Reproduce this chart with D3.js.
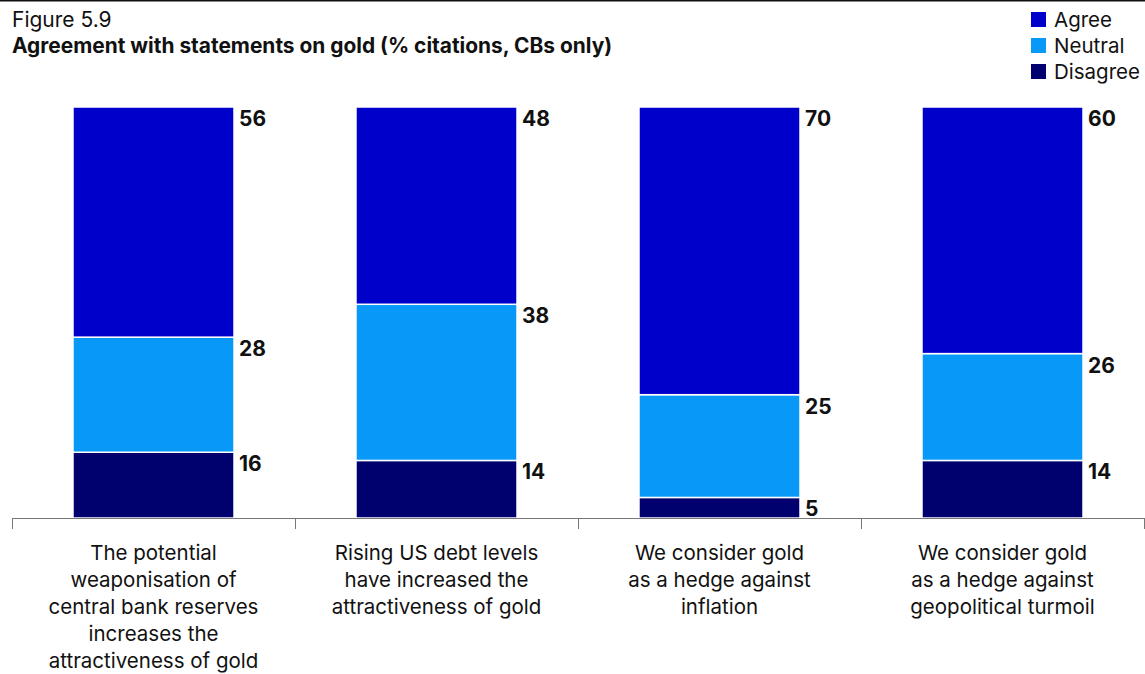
<!DOCTYPE html>
<html>
<head>
<meta charset="utf-8">
<script src="https://cdn.jsdelivr.net/npm/d3@7"></script>
<style>
  body { margin: 0; background: #fff; }
  svg { font-family: Inter, "Noto Sans", sans-serif; }
</style>
</head>
<body>
<svg id="chart" width="1145" height="674"></svg>
<script>
const categories = [
  ["The potential", "weaponisation of", "central bank reserves", "increases the", "attractiveness of gold"],
  ["Rising US debt levels", "have increased the", "attractiveness of gold"],
  ["We consider gold", "as a hedge against", "inflation"],
  ["We consider gold", "as a hedge against", "geopolitical turmoil"]
];
const seriesNames = ["Disagree", "Neutral", "Agree"];
const disagree = [16, 14, 5, 14];
const neutral = [28, 38, 25, 26];
const agree = [56, 48, 70, 60];
const legendOrder = ["Agree", "Neutral", "Disagree"];

const svg = d3.select("#chart");
const width = +svg.attr("width");

const colors = d3.scaleOrdinal()
  .domain(seriesNames)
  .range(["#00006f", "#0898f8", "#0000cb"]);

const rows = categories.map((c, i) => ({
  idx: i, Disagree: disagree[i], Neutral: neutral[i], Agree: agree[i]
}));

const x = d3.scaleBand()
  .domain(d3.range(categories.length))
  .range([12, 1144])
  .paddingInner(0.431)
  .paddingOuter(0.2155);

const y = d3.scaleLinear()
  .domain([0, 100])
  .range([518, 107]);

// --- top rule ---
svg.append("line")
  .attr("x1", 0).attr("x2", width)
  .attr("y1", 0.75).attr("y2", 0.75)
  .attr("stroke", "#111").attr("stroke-width", 1.5);

// --- titles ---
svg.append("text")
  .attr("x", 12).attr("y", 27)
  .attr("font-size", 21)
  .attr("fill", "#111")
  .text("Figure 5.9");

svg.append("text")
  .attr("x", 12).attr("y", 53)
  .attr("font-size", 20.9)
  .attr("font-weight", "bold")
  .attr("fill", "#111")
  .text("Agreement with statements on gold (% citations, CBs only)");

// --- stacked bars ---
const stacked = d3.stack().keys(seriesNames)(rows);

const layers = svg.append("g").selectAll("g")
  .data(stacked)
  .join("g")
  .attr("fill", d => colors(d.key));

layers.selectAll("rect")
  .data(d => d)
  .join("rect")
  .attr("x", d => x(d.data.idx))
  .attr("width", x.bandwidth())
  .attr("y", d => y(d[1]))
  .attr("height", d => y(d[0]) - y(d[1]))
  .attr("stroke", "#fff")
  .attr("stroke-width", 1.5);

// value labels
layers.selectAll("text")
  .data(d => d.map(v => ({ v, key: d.key })))
  .join("text")
  .attr("x", d => x(d.v.data.idx) + x.bandwidth() + 5)
  .attr("y", d => y(d.v[1]) + 19)
  .attr("font-size", 21)
  .attr("font-weight", "bold")
  .attr("fill", "#111")
  .text(d => d.v.data[d.key]);

// --- axis ---
const axis = svg.append("g");
axis.append("line")
  .attr("x1", 12).attr("x2", 1144)
  .attr("y1", 518.5).attr("y2", 518.5)
  .attr("stroke", "#777");

const tickPositions = x.domain().map(i => x(i) - x.step() * x.paddingInner() / 2).concat([1144 - 0.5]);
axis.selectAll(".tick")
  .data(tickPositions)
  .join("line")
  .attr("class", "tick")
  .attr("x1", d => Math.round(d) + 0.5).attr("x2", d => Math.round(d) + 0.5)
  .attr("y1", 518).attr("y2", 529)
  .attr("stroke", "#777");

// category labels
const labels = svg.append("g").selectAll("text")
  .data(categories)
  .join("text")
  .attr("text-anchor", "middle")
  .attr("font-size", 20.5)
  .attr("fill", "#111")
  .attr("transform", (d, i) => `translate(${x(i) + x.bandwidth() / 2},560)`);

labels.selectAll("tspan")
  .data(d => d)
  .join("tspan")
  .attr("x", 0)
  .attr("y", (d, i) => i * 27)
  .text(d => d);

// --- legend ---
const legend = svg.append("g")
  .attr("transform", "translate(1031,12)");

const items = legend.selectAll("g")
  .data(legendOrder)
  .join("g")
  .attr("transform", (d, i) => `translate(0,${i * 26})`);

items.append("rect")
  .attr("width", 15).attr("height", 15)
  .attr("fill", d => colors(d));

items.append("text")
  .attr("x", 23).attr("y", 15)
  .attr("font-size", 20.5)
  .attr("fill", "#111")
  .text(d => d);
</script>
</body>
</html>
